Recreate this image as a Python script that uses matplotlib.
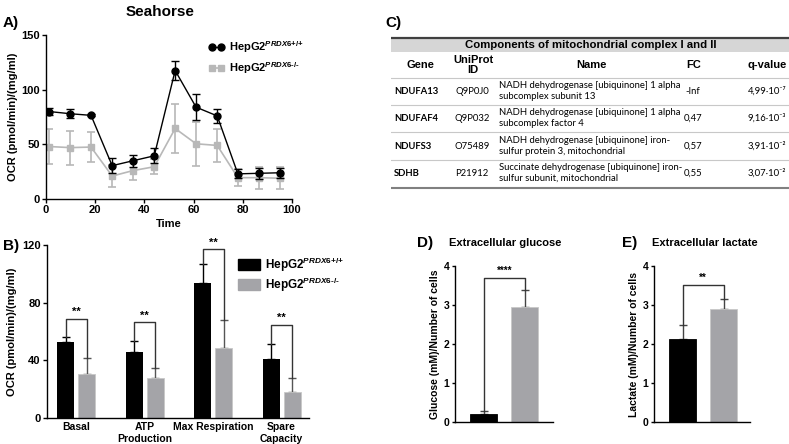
import matplotlib
matplotlib.use('Agg')
import matplotlib.pyplot as plt
from matplotlib.patches import Rectangle, Patch
from matplotlib.lines import Line2D
import numpy as np

plt.rcParams['font.family'] = ['Liberation Sans', 'DejaVu Sans']
plt.rcParams['font.weight'] = 'bold'
plt.rcParams['mathtext.fontset'] = 'custom'
plt.rcParams['mathtext.rm'] = 'Liberation Sans'
plt.rcParams['mathtext.it'] = 'Liberation Sans:italic'
plt.rcParams['mathtext.bf'] = 'Liberation Sans:bold'
plt.rcParams['axes.linewidth'] = 1.0

BLACK = '#000000'
GRAY = '#a4a4a8'
LGRAY = '#b8b8b8'

lab_wt = r'HepG2$^{\mathit{PRDX6{+}/{+}}}$'
lab_ko = r'HepG2$^{\mathit{PRDX6\text{-}/\text{-}}}$'

# ---------------- Panel A data ----------------
time_pts = [1.3, 9.8, 18.3, 26.9, 35.4, 44.0, 52.5, 61.0, 69.6, 78.0, 86.6, 95.1]
wt_ocr = [80, 78, 76.5, 30.5, 35, 39.5, 117.5, 84, 76, 23, 23.5, 24]
wt_err = [3, 4, 1, 7, 5.5, 7, 9, 12, 6.5, 4, 5, 4.5]
ko_ocr = [48, 47, 47.5, 21, 26, 29.5, 64.5, 50.5, 49, 19.5, 19.5, 19]
ko_err = [16, 15.5, 14, 10, 8.5, 7, 22.5, 20, 15, 7.5, 10, 10]
a_xticks = [0, 20, 40, 60, 80, 100]
a_yticks = [0, 50, 100, 150]

# ---------------- Panel B data ----------------
b_categories = ['Basal', 'ATP\nProduction', 'Max Respiration', 'Spare\nCapacity']
b_wt = [52.5, 46, 93.5, 41]
b_wt_err = [3.5, 7.5, 13, 10]
b_ko = [30.5, 27.5, 48.5, 18]
b_ko_err = [11, 7.5, 19.5, 10]
b_sig_y = [69, 66.5, 117, 64.5]
b_sig = ['**', '**', '**', '**']
b_yticks = [0, 40, 80, 120]

# ---------------- Panel D / E data ----------------
glucose = [0.2, 2.94]
glucose_err = [0.08, 0.45]
glucose_sig_y = 3.70
glucose_sig = '****'
lactate = [2.14, 2.90]
lactate_err = [0.34, 0.26]
lactate_sig_y = 3.52
lactate_sig = '**'
de_yticks = [0, 1, 2, 3, 4]

# ---------------- Panel C table ----------------
tbl_title = 'Components of mitochondrial complex I and II'
tbl_headers = ['Gene', 'UniProt\nID', 'Name', 'FC', 'q-value']
tbl_genes = ['NDUFA13', 'NDUFAF4', 'NDUFS3', 'SDHB']
tbl_ids = ['Q9P0J0', 'Q9P032', 'O75489', 'P21912']
tbl_names = ['NADH dehydrogenase [ubiquinone] 1 alpha\nsubcomplex subunit 13',
             'NADH dehydrogenase [ubiquinone] 1 alpha\nsubcomplex factor 4',
             'NADH dehydrogenase [ubiquinone] iron-\nsulfur protein 3, mitochondrial',
             'Succinate dehydrogenase [ubiquinone] iron-\nsulfur subunit, mitochondrial']
tbl_fc = ['-Inf', '0,47', '0,57', '0,55']
tbl_q = ['4,99·10⁻⁷', '9,16·10⁻³', '3,91·10⁻²', '3,07·10⁻²']

W, H = 789, 444
fig = plt.figure(figsize=(W / 100, H / 100), dpi=100)


def frac(x0, y_top, x1, y_bot):
    return [x0 / W, 1 - y_bot / H, (x1 - x0) / W, (y_bot - y_top) / H]


def style_axes(ax):
    for s in ['top', 'right']:
        ax.spines[s].set_visible(False)
    ax.tick_params(direction='out', length=3, width=1, labelsize=8, pad=1.5)
    for lab in ax.get_xticklabels() + ax.get_yticklabels():
        lab.set_fontweight('bold')


# ================= Panel A =================
axA = fig.add_axes(frac(46, 35, 292, 199))
axA.errorbar(time_pts, ko_ocr, yerr=ko_err, color=LGRAY, marker='s', ms=5,
             lw=1.2, capsize=3, elinewidth=1.2, capthick=1.2, label=lab_ko, zorder=2)
axA.errorbar(time_pts, wt_ocr, yerr=wt_err, color=BLACK, marker='o', ms=5,
             lw=1.0, capsize=3, elinewidth=1.0, capthick=1.0, label=lab_wt, zorder=3)
axA.set_xlim(0, 100)
axA.set_ylim(0, 150)
axA.set_xticks(a_xticks)
axA.set_yticks(a_yticks)
style_axes(axA)
axA.set_xlabel('Time', fontsize=8, fontweight='bold', labelpad=3)
axA.set_ylabel('OCR (pmol/min)/(mg/ml)', fontsize=8, fontweight='bold', labelpad=2)
hA = [Line2D([], [], color=BLACK, marker='o', ms=5, lw=1.0),
      Line2D([], [], color=LGRAY, marker='s', ms=5, lw=1.2)]
axA.legend(hA, [lab_wt, lab_ko], loc='upper left', bbox_to_anchor=(199 / W, 1 - 29 / H),
           bbox_transform=fig.transFigure, frameon=False, numpoints=2, handlelength=1.4,
           handletextpad=0.4, labelspacing=0.5, prop={'size': 8, 'weight': 'bold'})

fig.text(160 / W, 1 - 12 / H, 'Seahorse', ha='center', va='center', fontsize=11, fontweight='bold')
fig.text(3 / W, 1 - 23 / H, 'A)', ha='left', va='center', fontsize=11, fontweight='bold')

# ================= Panel B =================
axB = fig.add_axes(frac(47, 245, 309, 418))
xb = np.arange(len(b_categories))
off = 0.153
bw = 0.25
axB.bar(xb - off, b_wt, bw, color=BLACK, zorder=2)
axB.bar(xb + off, b_ko, bw, color=GRAY, edgecolor='#c8c8c8', lw=0.6, zorder=2)
axB.errorbar(xb - off, b_wt, yerr=[np.zeros(4), b_wt_err], fmt='none', ecolor=BLACK,
             elinewidth=1, capsize=3, capthick=1, zorder=1)
axB.errorbar(xb + off, b_ko, yerr=[np.zeros(4), b_ko_err], fmt='none', ecolor='#555555',
             elinewidth=1, capsize=3, capthick=1, zorder=1)
for i in range(len(b_categories)):
    y0 = b_wt[i] + b_wt_err[i]
    y1 = b_ko[i] + b_ko_err[i]
    ys = b_sig_y[i]
    axB.plot([xb[i] - off, xb[i] - off, xb[i] + off, xb[i] + off], [y0, ys, ys, y1],
             color='#333333', lw=1, zorder=3)
    axB.text(xb[i], ys + 1.2, b_sig[i], ha='center', va='bottom', fontsize=8, fontweight='bold')
axB.set_xlim(-0.43, 3.40)
axB.set_ylim(0, 120)
axB.set_yticks(b_yticks)
axB.set_xticks(xb)
axB.set_xticklabels(b_categories)
style_axes(axB)
axB.tick_params(axis='x', length=0, labelsize=7.5, pad=3)
axB.set_ylabel('OCR (pmol/min)/(mg/ml)', fontsize=8, fontweight='bold', labelpad=4)
hB = [Patch(color=BLACK), Patch(color=GRAY)]
axB.legend(hB, [lab_wt, lab_ko], loc='upper left', bbox_to_anchor=(227 / W, 1 - 245 / H),
           bbox_transform=fig.transFigure, frameon=False, handlelength=1.9, handleheight=1.0,
           handletextpad=0.4, labelspacing=0.15, prop={'size': 8.5, 'weight': 'bold'})
fig.text(3 / W, 1 - 246 / H, 'B)', ha='left', va='center', fontsize=11, fontweight='bold')

# ================= Panel D / E =================
def small_bar(rect, vals, errs, sig_y, sig, ylabel, xlim):
    ax = fig.add_axes(rect)
    xs = np.arange(2)
    ax.bar(xs, vals, 0.66, color=[BLACK, GRAY], edgecolor=[BLACK, '#c8c8c8'], lw=0.6, zorder=2)
    ax.errorbar(xs, vals, yerr=[np.zeros(2), errs], fmt='none', ecolor='#444444',
                elinewidth=1, capsize=3, capthick=1, zorder=1)
    tops = [v + e for v, e in zip(vals, errs)]
    ax.plot([xs[0], xs[0], xs[1], xs[1]], [tops[0], sig_y, sig_y, tops[1]],
            color='#333333', lw=1, zorder=3)
    ax.text(0.5, sig_y + 0.05, sig, ha='center', va='bottom', fontsize=7, fontweight='bold')
    ax.set_xlim(*xlim)
    ax.set_ylim(0, 4)
    ax.set_yticks(de_yticks)
    ax.set_xticks([])
    style_axes(ax)
    ax.tick_params(labelsize=7.5, length=2.5)
    ax.set_ylabel(ylabel, fontsize=7.5, fontweight='bold', labelpad=3)
    return ax

small_bar(frac(455, 266, 552.7, 422.3), glucose, glucose_err, glucose_sig_y, glucose_sig,
          'Glucose (mM)/Number of cells', (-0.70, 1.68))
small_bar(frac(654, 266, 750, 422.3), lactate, lactate_err, lactate_sig_y, lactate_sig,
          'Lactate (mM)/Number of cells', (-0.71, 1.65))
fig.text(417 / W, 1 - 243 / H, 'D)', ha='left', va='center', fontsize=11, fontweight='bold')
fig.text(449 / W, 1 - 243 / H, 'Extracellular glucose', ha='left', va='center', fontsize=8, fontweight='bold')
fig.text(622 / W, 1 - 243 / H, 'E)', ha='left', va='center', fontsize=11, fontweight='bold')
fig.text(652 / W, 1 - 243 / H, 'Extracellular lactate', ha='left', va='center', fontsize=8, fontweight='bold')

# ================= Panel C (table) =================
fig.text(385 / W, 1 - 23 / H, 'C)', ha='left', va='center', fontsize=11, fontweight='bold')
axT = fig.add_axes(frac(391, 36, 789, 190))
axT.set_xlim(391, 789)
axT.set_ylim(190, 36)
axT.axis('off')
axT.add_patch(Rectangle((391, 37.5), 398, 14.5, color='#d6d6d6', lw=0, zorder=0))
axT.plot([391, 789], [37.5, 37.5], color='#404040', lw=1.6)
axT.text(591, 45, tbl_title, ha='center', va='center', fontsize=8.2, fontweight='bold')
hdr_x = [420, 473, 591, 694, 767]
for hx, ht in zip(hdr_x, tbl_headers):
    axT.text(hx, 64.5, ht, ha='center', va='center', fontsize=8, fontweight='bold', linespacing=1.0)
row_lines = [78, 104.5, 132, 159.5]
for yl in row_lines:
    axT.plot([391, 789], [yl, yl], color='#c8c8c8', lw=0.8)
axT.plot([391, 789], [188, 188], color='#808080', lw=1.5)
row_y = [91, 118, 146, 173]
body_font = ['Lato', 'DejaVu Sans']
for i in range(len(tbl_genes)):
    y = row_y[i]
    axT.text(394, y, tbl_genes[i], ha='left', va='center', fontsize=6.8, fontweight='bold', family=body_font)
    axT.text(472, y, tbl_ids[i], ha='center', va='center', fontsize=6.8, fontweight='normal', family=body_font)
    axT.text(499, y, tbl_names[i], ha='left', va='center', fontsize=6.8, fontweight='normal',
             family=body_font, linespacing=1.25)
    axT.text(693, y, tbl_fc[i], ha='center', va='center', fontsize=6.8, fontweight='normal', family=body_font)
    axT.text(767, y, tbl_q[i], ha='center', va='center', fontsize=6.8, fontweight='normal', family=body_font)

fig.savefig('out.png', dpi=100)
